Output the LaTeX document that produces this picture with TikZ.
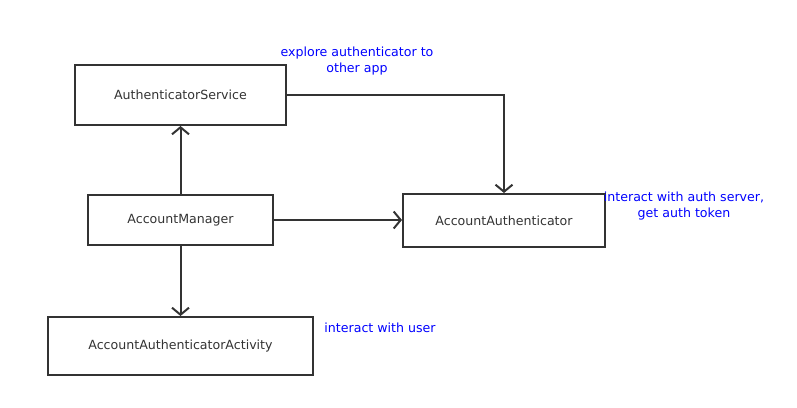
\documentclass[tikz,border=0pt]{standalone}
\usepackage{fontspec}
\setmainfont{DejaVu Sans}
\usetikzlibrary{arrows.meta}
\definecolor{linegray}{RGB}{51,51,51}
\definecolor{noteblue}{RGB}{0,0,255}
\begin{document}
\begin{tikzpicture}[x=1pt,y=-1pt,
  box/.style={draw=linegray,line width=2pt,fill=white,inner sep=0pt,text=linegray,font=\fontsize{12.6}{14}\selectfont},
  conn/.style={draw=linegray,line width=2pt,-{Straight Barb[length=7pt,width=17pt,line width=2pt]}},
  note/.style={text=noteblue,font=\fontsize{12.6}{16}\selectfont,align=center,inner sep=0pt}]
\useasboundingbox (0,0) rectangle (797,407);
\node[box,minimum width=211pt,minimum height=60pt] (as) at (180.5,95) {AuthenticatorService};
\node[box,minimum width=185pt,minimum height=50pt] (am) at (180.5,220) {AccountManager};
\node[box,minimum width=202pt,minimum height=53pt] (aa) at (504,220.5) {AccountAuthenticator};
\node[box,minimum width=265pt,minimum height=58pt] (aaa) at (180.5,346) {AccountAuthenticatorActivity};
\node[note] (n1) at (357,61) {explore authenticator to\\other app};
\node[note] (n2) at (684,206) {interact with auth server,\\get auth token};
\node[note] (n3) at (380,328) {interact with user};
\draw[conn] (as.east) -| (aa.north);
\draw[conn] (am.north) -- (as.south);
\draw[conn] (am.east) -- (am.east -| aa.west);
\draw[conn] (am.south) -- (aaa.north);
\end{tikzpicture}
\end{document}
